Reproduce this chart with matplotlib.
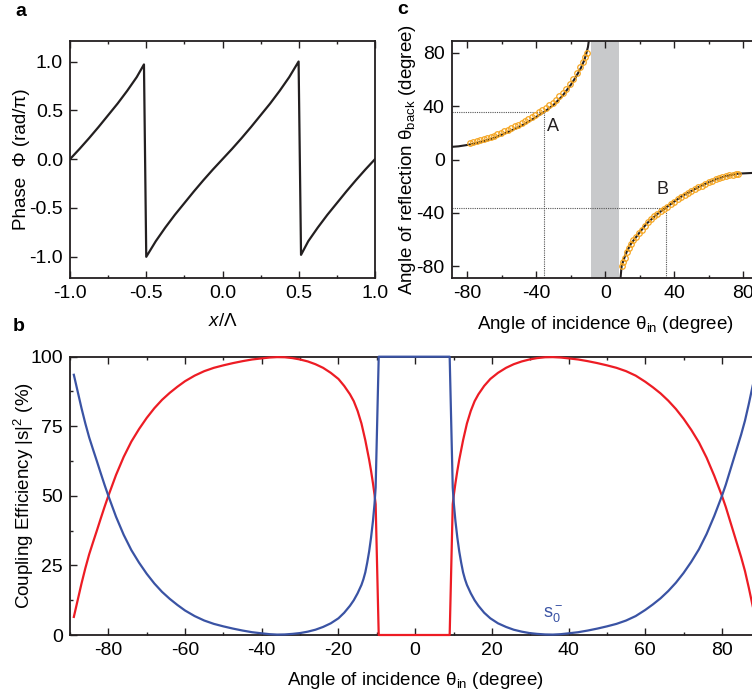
import matplotlib
matplotlib.use('Agg')
import matplotlib.pyplot as plt
from matplotlib.ticker import MultipleLocator

plt.rcParams['font.family'] = ['Liberation Sans', 'DejaVu Sans']
plt.rcParams['mathtext.fontset'] = 'custom'
plt.rcParams['mathtext.rm'] = 'Liberation Sans'
plt.rcParams['mathtext.it'] = 'Liberation Sans:italic'
plt.rcParams['axes.unicode_minus'] = False

# --- a: phase profile over two periods ---
x_phase = [-1.0, -0.9375, -0.875, -0.8125, -0.75, -0.6875, -0.625, -0.5625, -0.515,
           -0.50, -0.4375, -0.375, -0.3125, -0.25, -0.1875, -0.125, -0.0625, 0.0,
           0.0625, 0.125, 0.1875, 0.25, 0.3125, 0.375, 0.4375, 0.499,
           0.515, 0.5625, 0.625, 0.6875, 0.75, 0.8125, 0.875, 0.9375, 1.0]
phase = [0.0, 0.105, 0.215, 0.33, 0.45, 0.57, 0.70, 0.84, 0.97,
         -1.0, -0.84, -0.70, -0.57, -0.45, -0.33, -0.215, -0.105, 0.0,
         0.105, 0.215, 0.33, 0.45, 0.57, 0.70, 0.84, 1.0,
         -0.98, -0.84, -0.70, -0.57, -0.45, -0.33, -0.215, -0.105, 0.0]

# --- b: coupling efficiency vs incidence angle ---
theta_b = [-89, -88, -87, -86, -85, -84, -83, -82, -81, -80,
           -78, -76, -74, -72, -70, -68, -66, -64, -62, -60,
           -57.5, -55, -52.5, -50, -47.5, -45, -42.5, -40,
           -38, -36, -34, -32, -30, -28, -26, -24, -22, -20,
           -18.5, -17, -16, -15, -14, -13.5, -13, -12.5, -12, -11.5, -11, -10.6, -10.3, -9.5,
           9.0, 9.8, 10.1, 10.5, 11.0, 11.5, 12.0, 12.5, 13.0, 13.5,
           14.5, 15.5, 16.5, 18.0, 19.6, 21.6, 23.7, 25.7, 27.8, 29.8,
           31.8, 33.9, 35.9, 38.0, 40.0, 42.5, 45, 47.5, 50, 52.5,
           55, 57.5, 60, 62, 64, 66, 68, 70, 72, 74,
           76, 78, 80, 81, 82, 83, 84, 85, 86, 87, 88, 89]
eff_blue = [93.5, 87.5, 81.5, 76, 71, 66.7, 62.5, 58.2, 54, 50,
            42.5, 36, 30.5, 26, 22, 18.5, 15.5, 13, 10.8, 8.8,
            6.8, 5.2, 4.0, 3.1, 2.3, 1.6, 1.0, 0.6,
            0.3, 0.15, 0.2, 0.4, 0.7, 1.2, 1.9, 2.9, 4.2, 6.0,
            8.0, 10.5, 12.5, 15, 18, 20, 22.5, 26, 30, 35, 41, 47, 53, 100,
            100, 53, 47, 41, 35, 30, 26, 22.5, 20, 18,
            15, 12.5, 10.5, 8, 6, 4.2, 2.9, 1.9, 1.2, 0.7,
            0.4, 0.2, 0.15, 0.3, 0.6, 1.0, 1.6, 2.3, 3.1, 4.0,
            5.2, 6.8, 9.0, 11, 13.2, 15.8, 18.8, 22.3, 26.3, 30.8,
            36.3, 42.8, 50, 54, 58.5, 63, 67.5, 72, 77, 83, 89.5, 95]
eff_red = [6.5, 12.5, 18.5, 24, 29, 33.3, 37.5, 41.8, 46, 50,
           57.5, 64, 69.5, 74, 78, 81.5, 84.5, 87, 89.2, 91.2,
           93.2, 94.8, 96.0, 96.9, 97.7, 98.4, 99.0, 99.4,
           99.7, 99.85, 99.8, 99.5, 99.0, 98.3, 97.3, 96.0, 94.2, 92,
           89.5, 86.5, 84, 80.5, 76, 73, 70, 66.5, 63, 59, 54.5, 50.5, 47, 0,
           0, 47, 50.5, 54.5, 59, 63, 66.5, 70, 73, 76,
           80.5, 84, 86.5, 89.5, 92, 94.2, 96.0, 97.3, 98.3, 99.0,
           99.5, 99.8, 99.85, 99.7, 99.4, 99.0, 98.4, 97.7, 96.9, 96.0,
           94.8, 93.2, 91, 89, 86.8, 84.2, 81.2, 77.7, 73.7, 69.2,
           63.7, 57.2, 50, 46, 41.5, 37, 32.5, 28, 23, 17, 10.5, 5]

# --- c: reflection angle vs incidence angle ---
th_in_up = [-90, -85, -80, -75, -70, -65, -60, -55, -50, -45, -40, -35.4, -30, -25,
            -20, -17, -14, -12, -11, -10, -9.4]
th_back_up = [9.5, 10.0, 11.0, 12.3, 14.0, 16.0, 18.7, 21.5, 24.5, 28.0, 32.0, 35.7, 41.0, 47.5,
              56.0, 62.0, 69.0, 75.0, 79.5, 84.5, 90.0]
th_in_lo = [8.8, 9.5, 11, 12.4, 15, 17.2, 20, 24, 30, 35.2, 40, 45.2, 50, 55, 60, 65, 70,
            77, 85, 90]
th_back_lo = [-90, -80, -74, -69.3, -63, -59.3, -54.5, -48, -41, -36, -31.5, -26.8, -23.5,
              -20, -17, -14.3, -12.3, -10.5, -10, -9.5]

meas_in_up = [-78.5, -76.5, -74.5, -72.5, -70.5, -68.5, -66.5, -64.5, -62.5, -60.5, -58.5,
              -56.5, -54.5, -52.5, -50.5, -48.5, -46.5, -44.5, -42.5, -40.5, -38.5, -36.5,
              -34.5, -32.5, -30.5, -28.5, -26.5, -24.5, -22.5, -20.5, -18.5, -16.5, -14.5,
              -13.0, -11.8, -10.8]
meas_back_up = [12.7, 13.3, 14.0, 14.7, 15.5, 16.3, 17.2, 18.1, 19.1, 20.2, 21.3,
                22.5, 23.7, 25.0, 26.3, 27.7, 29.1, 30.6, 32.2, 33.8, 35.4, 37.1,
                38.9, 40.8, 42.8, 45.0, 47.4, 50.1, 53.2, 56.8, 60.8, 64.8, 69.2,
                73.0, 77.0, 80.0]
meas_in_lo = [9.5, 10.3, 11.2, 12.4, 13.6, 15.0, 16.4, 18.0, 19.6, 21.3, 23.0, 24.8, 26.6,
              28.4, 30.3, 32.2, 34.1, 36.0, 38.0, 40.0, 42.0, 44.0, 46.0, 48.0, 50.0, 52.0,
              54.0, 56.0, 58.0, 60.0, 62.0, 64.0, 66.0, 68.0, 70.0, 72.0, 74.0, 75.8, 77.2]
meas_back_lo = [-79.8, -76.5, -73.5, -69.5, -66.5, -63.3, -60.5, -57.8, -55.2, -52.5, -49.6,
                -47.0, -44.8, -42.6, -40.6, -38.7, -37.0, -35.3, -33.4, -31.6, -29.8, -28.0,
                -26.3, -24.8, -23.4, -22.0, -20.7, -19.4, -18.2, -17.0, -15.9, -14.8, -13.9,
                -13.1, -12.4, -11.8, -11.3, -10.9, -10.6]
point_A = (-35.5, 35.7)
point_B = (35.5, -36.0)
gap_band = (-8.5, 8.1)

INK = '#231f20'
RED = '#ed1c24'
BLUE = '#3a53a4'
ORANGE = '#f5a623'
TICK_FS = 14
LABEL_FS = 13.5


def style_axes(ax):
    for s in ax.spines.values():
        s.set_linewidth(1.3)
        s.set_color(INK)
    ax.tick_params(which='both', direction='in', top=True, right=False,
                   labelsize=TICK_FS, color=INK, width=1.0, pad=5)
    ax.tick_params(which='major', length=5)
    ax.tick_params(which='minor', length=2.5)


fig = plt.figure(figsize=(7.52, 6.96), dpi=100)

# panel a
ax_a = fig.add_axes([70 / 752, 1 - 278.3 / 696, 305 / 752, 237.3 / 696])
ax_a.plot(x_phase, phase, color=INK, lw=1.6)
ax_a.set_xlim(-1, 1)
ax_a.set_ylim(-1.22, 1.21)
ax_a.xaxis.set_major_locator(MultipleLocator(0.5))
ax_a.xaxis.set_minor_locator(MultipleLocator(0.25))
ax_a.yaxis.set_major_locator(MultipleLocator(0.5))
ax_a.xaxis.set_major_formatter(lambda v, p: f'{v:.1f}')
ax_a.yaxis.set_major_formatter(lambda v, p: f'{v:.1f}')
style_axes(ax_a)
ax_a.set_xlabel(r'$\mathit{x}$/Λ', fontsize=LABEL_FS, labelpad=8)
ax_a.set_ylabel('Phase  Φ (rad/π)', fontsize=LABEL_FS)
ax_a.yaxis.set_label_coords(-0.131, 0.5)

# panel c
ax_c = fig.add_axes([451.7 / 752, 1 - 278.3 / 696, 307 / 752, 237.3 / 696])
ax_c.axvspan(*gap_band, color='#c8c9cb', lw=0, zorder=0)
ax_c.plot(th_in_up, th_back_up, color=INK, lw=1.5, zorder=2)
ax_c.plot(th_in_lo, th_back_lo, color=INK, lw=1.5, zorder=2)
ax_c.plot(meas_in_up, meas_back_up, 'o', mfc='none', mec=ORANGE, ms=4, mew=0.9, zorder=3)
ax_c.plot(meas_in_lo, meas_back_lo, 'o', mfc='none', mec=ORANGE, ms=4, mew=0.9, zorder=3)
dot = dict(color='#555555', lw=0.8, ls=(0, (1, 1)), zorder=1)
ax_c.plot([-89, point_A[0]], [point_A[1], point_A[1]], **dot)
ax_c.plot([point_A[0], point_A[0]], [point_A[1], -89], **dot)
ax_c.plot([-89, point_B[0]], [point_B[1], point_B[1]], **dot)
ax_c.plot([point_B[0], point_B[0]], [point_B[1], -89], **dot)
ax_c.text(-34, 25, 'A', fontsize=13, va='center', ha='left', color=INK)
ax_c.text(29.8, -22.3, 'B', fontsize=13, va='center', ha='left', color=INK)
ax_c.set_xlim(-89, 89)
ax_c.set_ylim(-89, 89)
ax_c.xaxis.set_major_locator(MultipleLocator(40))
ax_c.xaxis.set_minor_locator(MultipleLocator(20))
ax_c.yaxis.set_major_locator(MultipleLocator(40))
style_axes(ax_c)
ax_c.set_xlabel(r'Angle of incidence θ$_\mathregular{in}$ (degree)', fontsize=LABEL_FS, labelpad=8.5)
ax_c.set_ylabel(r'Angle of reflection θ$_\mathregular{back}$ (degree)', fontsize=LABEL_FS)
ax_c.yaxis.set_label_coords(-0.109, 0.5)

# panel b
ax_b = fig.add_axes([70 / 752, 1 - 635 / 696, 690.3 / 752, 278.3 / 696])
ax_b.plot(theta_b, eff_red, color=RED, lw=1.6, zorder=4, clip_on=False)
ax_b.plot(theta_b, eff_blue, color=BLUE, lw=1.6, zorder=4, clip_on=False)
ax_b.text(33.4, 7.5, r'$\mathregular{s_0^-}$', color=BLUE, fontsize=13, va='center', ha='left')
ax_b.set_xlim(-90, 90)
ax_b.set_ylim(0, 100)
ax_b.xaxis.set_major_locator(MultipleLocator(20))
ax_b.xaxis.set_minor_locator(MultipleLocator(10))
ax_b.yaxis.set_major_locator(MultipleLocator(25))
ax_b.yaxis.set_minor_locator(MultipleLocator(12.5))
style_axes(ax_b)
ax_b.set_xlabel(r'Angle of incidence θ$_\mathregular{in}$ (degree)', fontsize=LABEL_FS, labelpad=8)
ax_b.set_ylabel(r'Coupling Efficiency |s|$^\mathregular{2}$ (%)', fontsize=LABEL_FS)
ax_b.yaxis.set_label_coords(-0.049, 0.5)

# panel letters
fig.text(15 / 752, 1 - 12 / 696, 'a', fontsize=14, fontweight='bold', va='center', ha='left')
fig.text(397 / 752, 1 - 10 / 696, 'c', fontsize=14, fontweight='bold', va='center', ha='left')
fig.text(13 / 752, 1 - 326 / 696, 'b', fontsize=14, fontweight='bold', va='center', ha='left')

fig.savefig('out.png', dpi=100, facecolor='white')
